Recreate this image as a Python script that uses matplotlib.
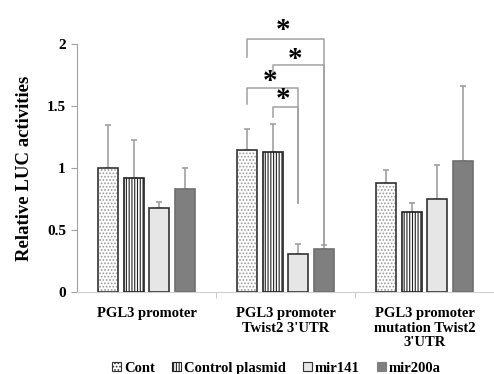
import numpy as np
import matplotlib
matplotlib.use("Agg")
import matplotlib.pyplot as plt
from matplotlib.patches import Patch

plt.rcParams['font.family'] = ['Liberation Serif', 'DejaVu Serif']
plt.rcParams['font.weight'] = 'bold'
plt.rcParams['hatch.linewidth'] = 0.8

groups = ['PGL3 promoter', "PGL3 promoter\nTwist2 3'UTR", "PGL3 promoter\nmutation Twist2\n3'UTR"]
series = ['Cont', 'Control plasmid', 'mir141', 'mir200a']
means = {
    'Cont': [1.00, 1.145, 0.88],
    'Control plasmid': [0.92, 1.127, 0.643],
    'mir141': [0.675, 0.306, 0.747],
    'mir200a': [0.83, 0.35, 1.06],
}
err_top = {
    'Cont': [1.345, 1.317, 0.984],
    'Control plasmid': [1.225, 1.352, 0.715],
    'mir141': [0.73, 0.39, 1.024],
    'mir200a': [1.0, 0.38, 1.664],
}
# brackets: (left x, right x, top y, left leg bottom, right leg bottom, star y)
brackets = [
    (0, 3, 2.04, 1.90, 0.38, 2.13),
    (1, 3, 1.83, 1.76, 0.38, 1.895),
    (0, 2, 1.643, 1.518, 0.72, 1.718),
    (1, 2, 1.494, 1.414, 0.72, 1.575),
]

fig = plt.figure(figsize=(4.94, 3.74), dpi=100)
ax = fig.add_axes([0.156, 0.219, 0.844, 0.663])

x = np.arange(len(groups))
step = 0.185
width = 0.145
offsets = (np.arange(4) - 1.5) * step

styles = {
    'Cont': dict(face='white', hatch='.....', hcol='#9a9a9a', edge='#333333'),
    'Control plasmid': dict(face='white', hatch='||||||', hcol='#222222', edge='#222222'),
    'mir141': dict(face='#e6e6e6', hatch=None, hcol=None, edge='#333333'),
    'mir200a': dict(face='#7f7f7f', hatch=None, hcol=None, edge='#6f6f6f'),
}

for i, s in enumerate(series):
    st = styles[s]
    xs = x + offsets[i]
    m = np.array(means[s])
    e = np.array(err_top[s]) - m
    if st['hatch']:
        ax.bar(xs, m, width, color=st['face'], edgecolor=st['hcol'], hatch=st['hatch'],
               linewidth=0, zorder=2)
        ax.bar(xs, m, width, fill=False, edgecolor=st['edge'], linewidth=1.2, zorder=3)
    else:
        ax.bar(xs, m, width, color=st['face'], edgecolor=st['edge'], linewidth=1.2, zorder=3)
    ax.errorbar(xs, m, yerr=[np.zeros_like(e), e], fmt='none', ecolor='#a0a0a0',
                elinewidth=1.2, capsize=2.5, capthick=1.2, zorder=1)

# significance brackets over the middle group
for li, ri, top, lb, rb, sy in brackets:
    xl = x[1] + offsets[li]
    xr = x[1] + offsets[ri]
    ax.plot([xl, xl, xr, xr], [lb, top, top, rb], color='#a0a0a0', lw=1.1,
            clip_on=False, zorder=1)
    ax.text((xl + xr) / 2 - 0.02, sy - 0.02, '*', ha='center', va='center', fontsize=21,
            fontweight='bold', clip_on=False)

ax.set_xlim(-0.5, 2.5)
ax.set_ylim(0, 2)
ax.set_yticks([0, 0.5, 1, 1.5, 2])
ax.set_yticklabels(['0', '0.5', '1', '1.5', '2'])
ax.set_xticks([0.5, 1.5], minor=True)
ax.set_xticks(x)
ax.set_xticklabels(groups, fontsize=10.5, linespacing=1.15)
ax.tick_params(axis='x', which='major', length=0, pad=11)
ax.tick_params(axis='x', which='minor', length=4, color='#c0c0c0')
ax.tick_params(axis='y', length=4, color='#a0a0a0', labelsize=11, pad=4)
for sp in ['top', 'right']:
    ax.spines[sp].set_visible(False)
ax.spines['left'].set_color('#a0a0a0')
ax.spines['bottom'].set_color('#d0d0d0')
ax.set_ylabel('Relative LUC activities', fontsize=13.5, fontweight='bold', labelpad=10)

handles = [
    Patch(facecolor='white', edgecolor='#333333', hatch='.....', linewidth=0.8),
    Patch(facecolor='white', edgecolor='#222222', hatch='||||||', linewidth=0.8),
    Patch(facecolor='#e6e6e6', edgecolor='#333333', linewidth=0.8),
    Patch(facecolor='#7f7f7f', edgecolor='#7f7f7f', linewidth=0.8),
]
fig.legend(handles, series, loc='center', bbox_to_anchor=(0.56, 0.016), ncol=4,
           frameon=False, fontsize=10.5, handlelength=0.6, handleheight=0.6,
           handletextpad=0.2, columnspacing=1.2, borderaxespad=0)

fig.savefig('out.png', dpi=100)
